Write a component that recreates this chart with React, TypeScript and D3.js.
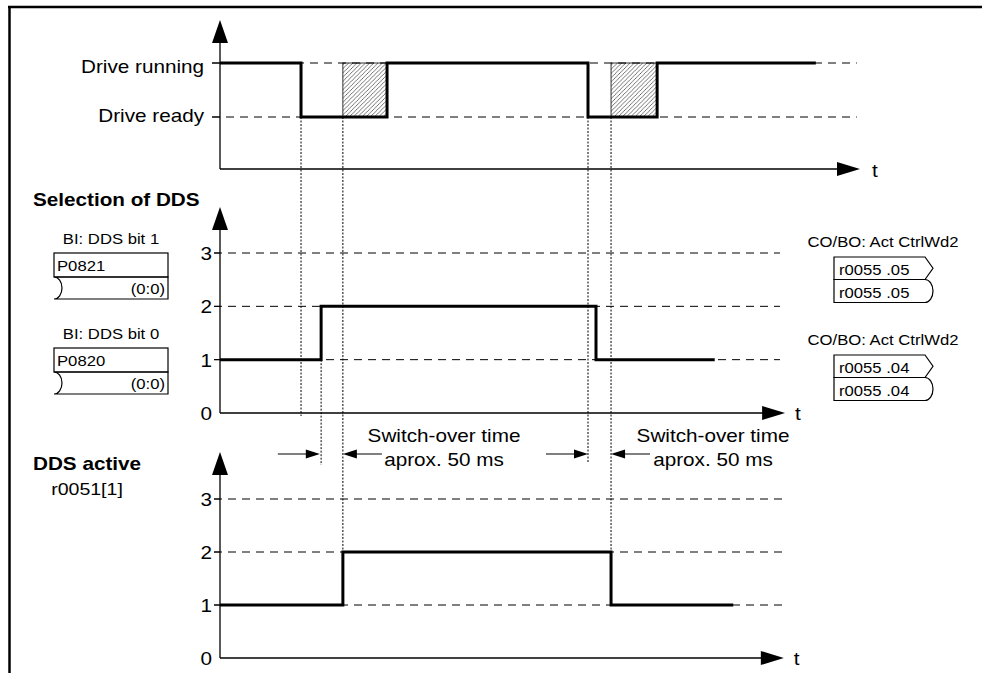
import React from "react";
import * as d3 from "d3";

// ---- data (time in arbitrary units along the common time axis) ----
const driveTimes = [0, 12.66, 26.1, 57.5, 68.3, 93.1];
const driveStates = [1, 0, 1, 0, 1, 1]; // 1 = Drive running, 0 = Drive ready
const driveLevelLabels = ["Drive ready", "Drive running"];
const hatchStart = [19.2, 61.1];
const hatchEnd = [26.1, 68.3];

const selTimes = [0, 15.8, 58.75, 77.3];
const selValues = [1, 2, 1, 1];

const activeTimes = [0, 19.2, 61.1, 80.2];
const activeValues = [1, 2, 1, 1];

const levelTicks = [0, 1, 2, 3];
const switchFrom = [15.6, 57.5];
const switchTo = [19.2, 61.1];
const switchLabel = ["Switch-over time", "aprox. 50 ms"];

const leftBlocks = [
  { title: "BI: DDS bit 1", param: "P0821", idx: "(0:0)" },
  { title: "BI: DDS bit 0", param: "P0820", idx: "(0:0)" },
];
const rightBlocks = [
  { title: "CO/BO: Act CtrlWd2", param: "r0055 .05" },
  { title: "CO/BO: Act CtrlWd2", param: "r0055 .04" },
];

const W = 982;
const H = 673;
const FONT = "'Liberation Sans', Arial, Helvetica, sans-serif";
const SX = 1.15;

function T({ x, y, anchor = "start", size = 18, weight = "normal", children }: any) {
  return (
    <text
      transform={`translate(${x},${y}) scale(${SX},1)`}
      textAnchor={anchor}
      fontSize={size}
      fontWeight={weight}
      fontFamily={FONT}
      fill="#000"
    >
      {children}
    </text>
  );
}

export default function App() {
  const X = d3.scaleLinear().domain([0, 100]).range([220, 860]);
  const yTop = d3.scaleLinear().domain([0, 1]).range([117, 63]);
  const yMid = d3.scaleLinear().domain([0, 3]).range([413, 253]);
  const yBot = d3.scaleLinear().domain([0, 3]).range([658, 499]);

  const stepLine = (y: d3.ScaleLinear<number, number>) =>
    d3
      .line<[number, number]>()
      .x((d) => X(d[0]))
      .y((d) => y(d[1]))
      .curve(d3.curveStepAfter);

  const drivePath = stepLine(yTop)(driveTimes.map((t, i) => [t, driveStates[i]]))!;
  const selPath = stepLine(yMid)(selTimes.map((t, i) => [t, selValues[i]]))!;
  const actPath = stepLine(yBot)(activeTimes.map((t, i) => [t, activeValues[i]]))!;

  const x0 = X(0);
  const topAxisY = 169;
  const midAxisY = yMid(0);
  const botAxisY = yBot(0);
  const arrowY = 454;

  const vArrow = (x: number, tip: number) => (
    <path d={`M${x},${tip} L${x - 8},${tip + 23} L${x + 8},${tip + 23} Z`} fill="#000" />
  );
  const hArrow = (tipX: number, y: number) => (
    <path d={`M${tipX},${y} L${tipX - 23},${y - 7} L${tipX - 23},${y + 7} Z`} fill="#000" />
  );

  const dashed = { stroke: "#000", strokeWidth: 1, strokeDasharray: "8,6", fill: "none" };
  const dotted = { stroke: "#000", strokeWidth: 1, strokeDasharray: "2,1.5", fill: "none" };
  const sig = { stroke: "#000", strokeWidth: 3, fill: "none" };
  const axis = { stroke: "#000", strokeWidth: 1.3, fill: "none" };

  const guides = [
    { t: driveTimes[1], y1: yTop(0), y2: midAxisY + 3 },
    { t: selTimes[1], y1: yMid(1), y2: arrowY + 11 },
    { t: activeTimes[1], y1: yTop(0), y2: yBot(2) },
    { t: driveTimes[3], y1: yTop(0), y2: arrowY + 9 },
    { t: activeTimes[2], y1: yTop(0), y2: yBot(2) },
  ];

  const lb = [253, 348];
  const rb = [257, 355];

  return (
    <svg
      width={W}
      height={H}
      style={{ position: "absolute", left: 0, top: 0, background: "#fff" }}
      viewBox={`0 0 ${W} ${H}`}
    >
      <defs>
        <pattern id="hatch" patternUnits="userSpaceOnUse" width="4.2" height="4.2">
          <path d="M-1,1 l2,-2 M0,4.2 l4.2,-4.2 M3.2,5.2 l2,-2" stroke="#000" strokeWidth="0.55" />
        </pattern>
      </defs>
      <rect x={0} y={0} width={W} height={H} fill="#fff" />

      {/* frame */}
      <line x1={8} y1={7} x2={W} y2={7} stroke="#000" strokeWidth={2.5} />
      <line x1={9.5} y1={6} x2={9.5} y2={H} stroke="#000" strokeWidth={2.5} />

      {/* ===== Top chart ===== */}
      {driveLevelLabels.map((lab, i) => (
        <g key={lab}>
          <line x1={212} x2={X(99.5)} y1={yTop(i)} y2={yTop(i)} {...dashed} />
          <line x1={212} x2={x0} y1={yTop(i)} y2={yTop(i)} stroke="#000" strokeWidth={1} />
          <T x={204} y={yTop(i) + (i === 1 ? 10 : 5)} anchor="end">
            {lab}
          </T>
        </g>
      ))}
      {hatchStart.map((s, i) => (
        <rect
          key={i}
          x={X(s)}
          y={yTop(1)}
          width={X(hatchEnd[i]) - X(s)}
          height={yTop(0) - yTop(1)}
          fill="url(#hatch)"
          stroke="#000"
          strokeWidth={0.8}
        />
      ))}
      <path d={drivePath} {...sig} />
      <line x1={x0} y1={40} x2={x0} y2={topAxisY} {...axis} />
      <line x1={x0} y1={topAxisY} x2={X(100) - 20} y2={topAxisY} {...axis} />
      {vArrow(x0, 20)}
      {hArrow(X(100), topAxisY)}
      <T x={X(100) + 12} y={topAxisY + 8}>t</T>

      {/* guides */}
      {guides.map((g, i) => (
        <line key={i} x1={X(g.t)} x2={X(g.t)} y1={g.y1} y2={g.y2} {...dotted} />
      ))}

      {/* ===== Middle chart ===== */}
      <T x={33} y={206} weight="bold">Selection of DDS</T>
      {levelTicks.map((v) => (
        <g key={v}>
          {v > 0 && <line x1={214} x2={X(87.5)} y1={yMid(v)} y2={yMid(v)} {...dashed} />}
          {v > 0 && <line x1={214} x2={x0} y1={yMid(v)} y2={yMid(v)} stroke="#000" strokeWidth={1} />}
          <T x={212} y={yMid(v) + 7} anchor="end">{String(v)}</T>
        </g>
      ))}
      <path d={selPath} {...sig} />
      <line x1={x0} y1={225} x2={x0} y2={midAxisY} {...axis} />
      <line x1={x0} y1={midAxisY} x2={X(88.3) - 20} y2={midAxisY} {...axis} />
      {vArrow(x0, 207)}
      {hArrow(X(88.3), midAxisY)}
      <T x={X(88.3) + 10} y={midAxisY + 7}>t</T>

      {/* switch-over arrows */}
      {switchFrom.map((f, i) => {
        const a = X(f);
        const b = X(switchTo[i]);
        const cx = i === 0 ? 444 : 713;
        return (
          <g key={i}>
            <line x1={a - 42} x2={a - 10} y1={arrowY} y2={arrowY} stroke="#000" strokeWidth={1} />
            <path d={`M${a},${arrowY} L${a - 14},${arrowY - 4.5} L${a - 14},${arrowY + 4.5} Z`} fill="#000" />
            <line x1={b + 10} x2={b + 39} y1={arrowY} y2={arrowY} stroke="#000" strokeWidth={1} />
            <path d={`M${b},${arrowY} L${b + 14},${arrowY - 4.5} L${b + 14},${arrowY + 4.5} Z`} fill="#000" />
            <T x={cx} y={442} anchor="middle">{switchLabel[0]}</T>
            <T x={cx} y={466} anchor="middle">{switchLabel[1]}</T>
          </g>
        );
      })}

      {/* left parameter blocks */}
      {leftBlocks.map((b, i) => {
        const top = lb[i];
        const mid = top + 24;
        const bot = top + 46;
        const l = 54;
        const r = 168;
        return (
          <g key={i}>
            <T x={111} y={top - 9} anchor="middle" size={14.5}>{b.title}</T>
            <rect x={l} y={top} width={r - l} height={mid - top} fill="none" stroke="#000" strokeWidth={1.2} />
            <path
              d={`M${l},${mid} H${r} V${bot} H${l} A8,11 0 0 0 ${l},${mid}`}
              fill="none"
              stroke="#000"
              strokeWidth={1.2}
            />
            <T x={57} y={mid - 6} size={14.5}>{b.param}</T>
            <T x={165} y={bot - 5} anchor="end" size={14.5}>{b.idx}</T>
          </g>
        );
      })}

      {/* right connector blocks */}
      {rightBlocks.map((b, i) => {
        const top = rb[i];
        const mid = top + 22.5;
        const bot = top + 45.5;
        const l = 834;
        const r = 925;
        return (
          <g key={i}>
            <T x={883} y={top - 10} anchor="middle" size={14.5}>{b.title}</T>
            <path
              d={`M${l},${top} H${r} L${r + 8},${(top + mid) / 2} L${r},${mid} H${l} Z`}
              fill="none"
              stroke="#000"
              strokeWidth={1.2}
            />
            <path
              d={`M${l},${mid} H${r} A8,11.5 0 0 1 ${r},${bot} H${l} Z`}
              fill="none"
              stroke="#000"
              strokeWidth={1.2}
            />
            <T x={839} y={mid - 5} size={14.5}>{b.param}</T>
            <T x={839} y={bot - 5} size={14.5}>{b.param}</T>
          </g>
        );
      })}

      {/* ===== Bottom chart ===== */}
      <T x={33} y={470} weight="bold">DDS active</T>
      <T x={87} y={495} anchor="middle" size={17}>r0051[1]</T>
      {levelTicks.map((v) => (
        <g key={v}>
          {v > 0 && <line x1={214} x2={X(88.3)} y1={yBot(v)} y2={yBot(v)} {...dashed} />}
          {v > 0 && <line x1={214} x2={x0} y1={yBot(v)} y2={yBot(v)} stroke="#000" strokeWidth={1} />}
          <T x={212} y={yBot(v) + 7} anchor="end">{String(v)}</T>
        </g>
      ))}
      <path d={actPath} {...sig} />
      <line x1={x0} y1={470} x2={x0} y2={botAxisY} {...axis} />
      <line x1={x0} y1={botAxisY} x2={X(88.1) - 20} y2={botAxisY} {...axis} />
      {vArrow(x0, 452)}
      {hArrow(X(88.1), botAxisY)}
      <T x={X(88.1) + 10} y={botAxisY + 7}>t</T>
    </svg>
  );
}
